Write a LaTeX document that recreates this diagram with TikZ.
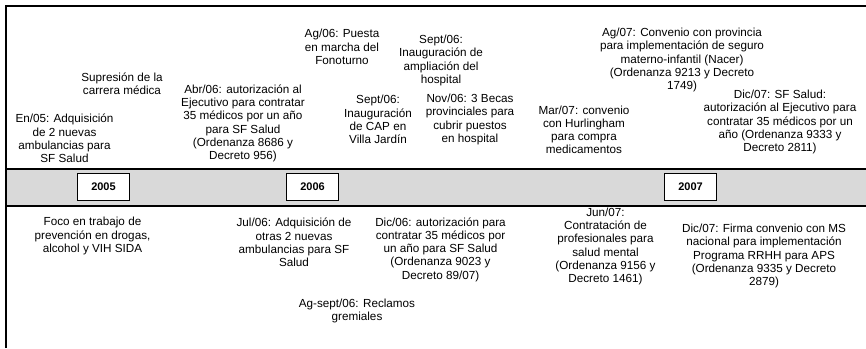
\documentclass[tikz,border=0pt]{standalone}
\usepackage{fontspec}
\setmainfont{Liberation Sans}
\definecolor{bandgray}{HTML}{D9D9D9}
\begin{document}
\begin{tikzpicture}[x=1pt,y=-1pt,
  evt/.style={align=center,inner sep=0pt,font=\fontsize{11.7}{13.2}\selectfont},
  yearbox/.style={draw=black,fill=white,line width=0.9pt,minimum width=52pt,minimum height=27pt,inner sep=0pt,font=\fontsize{11}{12}\selectfont\bfseries}]
\useasboundingbox (0,0) rectangle (866,348);
% band
\fill[bandgray] (6,168.7) rectangle (866,205.8);
\draw[line width=2.4pt] (6,168.7) -- (866,168.7);
\draw[line width=1.5pt] (6,205.8) -- (866,205.8);
% frame
\draw[line width=2.3pt] (6,348) -- (6,6) -- (866,6);
% years
\node[yearbox] (y2005) at (103.5,187) {2005};
\node[yearbox] (y2006) at (312.5,187) {2006};
\node[yearbox] (y2007) at (690.5,187) {2007};
% top events
\node[evt] (e1) at (122,83.5) {Supresión de la\\carrera médica};
\node[evt] (e2) at (64.5,138.5) {En/05: Adquisición\\de 2 nuevas\\ambulancias para\\SF Salud};
\node[evt] (e3) at (243,123.5) {Abr/06: autorización al\\Ejecutivo para contratar\\35 médicos por un año\\para SF Salud\\(Ordenanza 8686 y\\Decreto 956)};
\node[evt] (e4) at (342,47) {Ag/06: Puesta\\en marcha del\\Fonoturno};
\node[evt] (e5) at (441,60.5) {Sept/06:\\Inauguración de\\ampliación del\\hospital};
\node[evt] (e6) at (378,119.5) {Sept/06:\\Inauguración\\de CAP en\\Villa Jardín};
\node[evt] (e7) at (470,119.5) {Nov/06: 3 Becas\\provinciales para\\cubrir puestos\\en hospital};
\node[evt] (e8) at (584,130) {Mar/07: convenio\\con Hurlingham\\para compra\\medicamentos};
\node[evt] (e9) at (682,60) {Ag/07: Convenio con provincia\\para implementación de seguro\\materno-infantil (Nacer)\\(Ordenanza 9213 y Decreto\\1749)};
\node[evt] (e10) at (780,122) {Dic/07: SF Salud:\\autorización al Ejecutivo para\\contratar 35 médicos por un\\año (Ordenanza 9333 y\\Decreto 2811)};
% bottom events
\node[evt] (e11) at (92.5,236) {Foco en trabajo de\\prevención en drogas,\\alcohol y VIH SIDA};
\node[evt] (e12) at (294,242.5) {Jul/06: Adquisición de\\otras 2 nuevas\\ambulancias para SF\\Salud};
\node[evt] (e13) at (440.5,249.5) {Dic/06: autorización para\\contratar 35 médicos por\\un año para SF Salud\\(Ordenanza 9023 y\\Decreto 89/07)};
\node[evt] (e14) at (357,311) {Ag-sept/06: Reclamos\\gremiales};
\node[evt] (e15) at (605.5,246.5) {Jun/07:\\Contratación de\\profesionales para\\salud mental\\(Ordenanza 9156 y\\Decreto 1461)};
\node[evt] (e16) at (764,256) {Dic/07: Firma convenio con MS\\nacional para implementación\\Programa RRHH para APS\\(Ordenanza 9335 y Decreto\\2879)};
\end{tikzpicture}
\end{document}
